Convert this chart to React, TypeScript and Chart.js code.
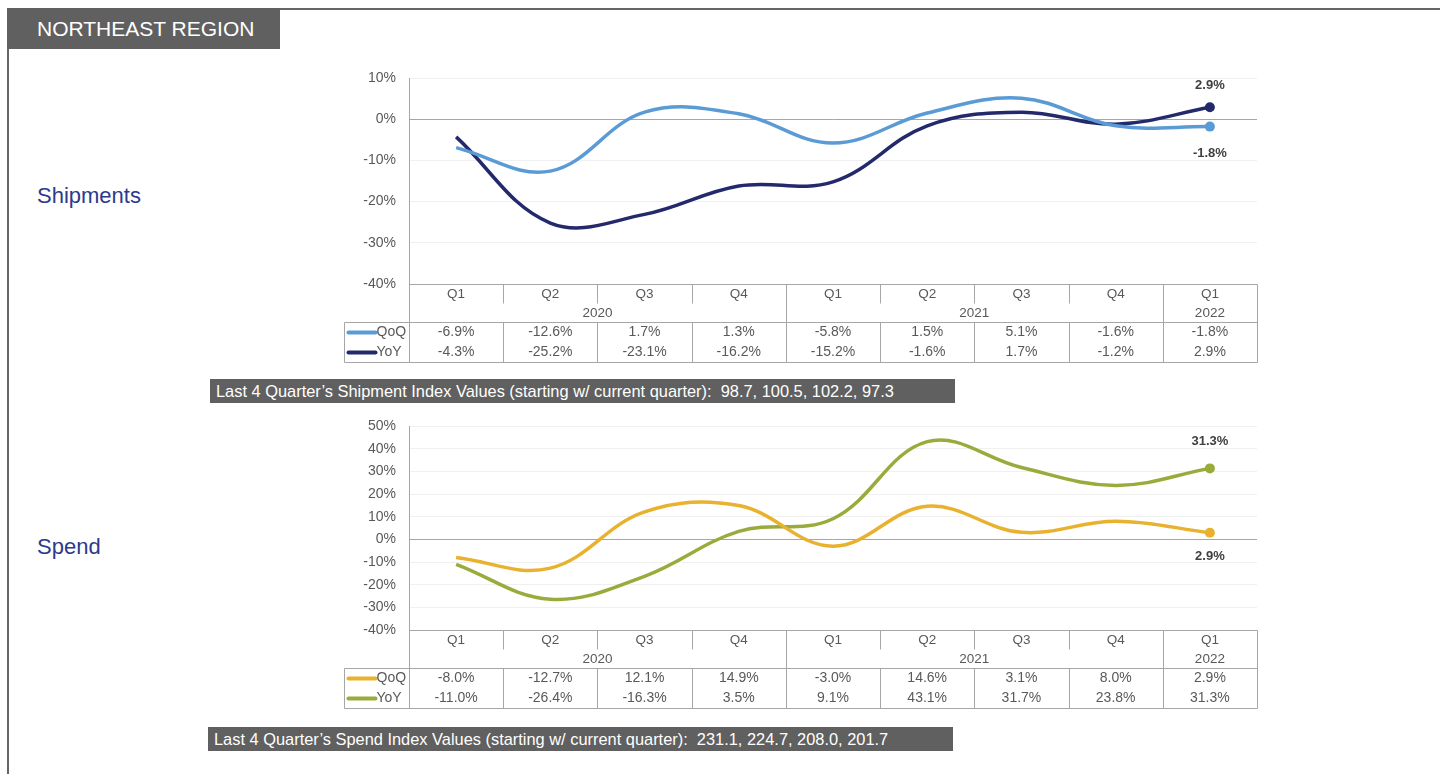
import React, { useEffect, useRef } from "react";
import { Chart, registerables } from "chart.js";

Chart.register(...registerables);

const quarters = ["Q1", "Q2", "Q3", "Q4", "Q1", "Q2", "Q3", "Q4", "Q1"];
const years = ["2020", "2021", "2022"];
const yearSpans = [4, 4, 1];

const shipQoQ = [-6.9, -12.6, 1.7, 1.3, -5.8, 1.5, 5.1, -1.6, -1.8];
const shipYoY = [-4.3, -25.2, -23.1, -16.2, -15.2, -1.6, 1.7, -1.2, 2.9];
const spendQoQ = [-8.0, -12.7, 12.1, 14.9, -3.0, 14.6, 3.1, 8.0, 2.9];
const spendYoY = [-11.0, -26.4, -16.3, 3.5, 9.1, 43.1, 31.7, 23.8, 31.3];

const shipIndex = [98.7, 100.5, 102.2, 97.3];
const spendIndex = [231.1, 224.7, 208.0, 201.7];

const FONT = "'Liberation Sans', Arial, Helvetica, sans-serif";
const GRID = "#a6a6a6";
const TXT = "#595959";

type SectionProps = {
  top: number;
  height: number;
  yMin: number;
  yMax: number;
  qoq: number[];
  yoy: number[];
  qoqColor: string;
  yoyColor: string;
  above: number;
  below: number;
};

const fmt = (v: number) => v.toFixed(1) + "%";

const tablePlugin = {
  id: "tablePlugin",
  afterDraw(chart: any) {
    const ctx = chart.ctx as CanvasRenderingContext2D;
    const xs = chart.scales.x;
    const area = chart.chartArea;
    const n = quarters.length;
    const half = (xs.getPixelForValue(1) - xs.getPixelForValue(0)) / 2;
    const colLeft = (i: number) => xs.getPixelForValue(i) - half;
    const B = Math.round(area.bottom) + 0.5;
    const L = Math.round(area.left) + 0.5;
    const R = Math.round(colLeft(n)) + 0.5;
    const legL = L - 65;
    const opts = chart.options.plugins.tablePlugin;
    ctx.save();
    ctx.strokeStyle = GRID;
    ctx.lineWidth = 1;
    const line = (x1: number, y1: number, x2: number, y2: number) => {
      ctx.beginPath();
      ctx.moveTo(x1, y1);
      ctx.lineTo(x2, y2);
      ctx.stroke();
    };
    line(L, B, R, B);
    line(L, B, L, B + 78);
    line(R, B, R, B + 78);
    line(legL, B + 38, R, B + 38);
    line(legL, B + 78, R, B + 78);
    line(legL, B + 38, legL, B + 78);
    let acc = 0;
    const yearBounds: number[] = [];
    yearSpans.forEach((s) => {
      acc += s;
      yearBounds.push(acc);
    });
    for (let i = 1; i < n; i++) {
      const x = Math.round(colLeft(i)) + 0.5;
      if (yearBounds.includes(i)) {
        line(x, B, x, B + 78);
      } else {
        line(x, B, x, B + 19);
        line(x, B + 38, x, B + 78);
      }
    }
    ctx.fillStyle = TXT;
    ctx.font = "13.5px " + FONT;
    ctx.textAlign = "center";
    ctx.textBaseline = "middle";
    quarters.forEach((q, i) => ctx.fillText(q, xs.getPixelForValue(i), B + 10));
    let start = 0;
    years.forEach((y, k) => {
      const end = start + yearSpans[k];
      ctx.fillText(y, (colLeft(start) + colLeft(end)) / 2, B + 29);
      start = end;
    });
    const rows = [
      { label: "QoQ", data: opts.qoq, color: opts.qoqColor, y: B + 48 },
      { label: "YoY", data: opts.yoy, color: opts.yoyColor, y: B + 68 },
    ];
    ctx.font = "14px " + FONT;
    rows.forEach((r) => {
      ctx.fillStyle = TXT;
      ctx.textAlign = "center";
      r.data.forEach((v: number, i: number) => ctx.fillText(fmt(v), xs.getPixelForValue(i), r.y));
      ctx.strokeStyle = r.color;
      ctx.lineWidth = 4;
      ctx.lineCap = "round";
      line(legL + 4, r.y, legL + 31, r.y);
      ctx.textAlign = "left";
      ctx.fillText(r.label, legL + 32, r.y);
    });
    // end labels
    ctx.font = "bold 13px " + FONT;
    ctx.fillStyle = "#404040";
    ctx.textAlign = "center";
    chart.data.datasets.forEach((ds: any, d: number) => {
      const meta = chart.getDatasetMeta(d);
      const last = meta.data[meta.data.length - 1];
      const v = ds.data[ds.data.length - 1];
      const isAbove = ds.label === "YoY";
      ctx.fillText(fmt(v), last.x, isAbove ? last.y - opts.above : last.y + opts.below);
    });
    ctx.restore();
  },
};

function Section(p: SectionProps) {
  const ref = useRef<HTMLCanvasElement>(null);
  useEffect(() => {
    if (!ref.current) return;
    const last = quarters.length - 1;
    const mk = (label: string, data: number[], color: string) => ({
      label,
      data,
      borderColor: color,
      backgroundColor: color,
      borderWidth: 3.5,
      tension: 0.38,
      pointRadius: (c: any) => (c.dataIndex === last ? 5 : 0),
      pointBackgroundColor: color,
      pointBorderWidth: 0,
      clip: false as any,
    });
    const chart = new Chart(ref.current, {
      type: "line",
      data: {
        labels: quarters,
        datasets: [mk("QoQ", p.qoq, p.qoqColor), mk("YoY", p.yoy, p.yoyColor)],
      },
      options: {
        animation: false,
        responsive: false,
        maintainAspectRatio: false,
        layout: { padding: { top: 0, right: 23, bottom: 90, left: 0 } },
        plugins: {
          legend: { display: false },
          tooltip: { enabled: false },
          tablePlugin: {
            qoq: p.qoq,
            yoy: p.yoy,
            qoqColor: p.qoqColor,
            yoyColor: p.yoyColor,
            above: p.above,
            below: p.below,
          },
        } as any,
        scales: {
          x: {
            display: false,
            offset: true,
            grid: { display: false },
          },
          y: {
            min: p.yMin,
            max: p.yMax,
            afterFit: (s: any) => {
              s.width = 79;
            },
            border: { display: true, color: GRID },
            grid: {
              drawTicks: false,
              color: (c: any) =>
                c.tick && (c.tick.value === 0 || c.tick.value === p.yMin) ? GRID : "#f0f0f0",
            },
            ticks: {
              stepSize: 10,
              padding: 13,
              color: TXT,
              font: { size: 14, family: FONT, lineHeight: 16 / 14 },
              callback: (v: any) => v + "%",
            },
          },
        },
      },
      plugins: [tablePlugin],
    });
    return () => chart.destroy();
  }, []);
  return (
    <canvas
      ref={ref}
      width={950}
      height={p.height}
      style={{ position: "absolute", left: 330, top: p.top, width: 950, height: p.height }}
    />
  );
}

const banner = (top: number, left: number, text: string) => (
  <div
    style={{
      position: "absolute",
      left,
      top,
      width: 745,
      height: 24,
      background: "#606060",
      color: "#fff",
      fontFamily: FONT,
      fontSize: 16.4,
      lineHeight: "24px",
      paddingLeft: 6,
      boxSizing: "border-box",
      whiteSpace: "pre",
    }}
  >
    {text}
  </div>
);

export default function App() {
  return (
    <div
      style={{
        position: "fixed",
        left: 0,
        top: 0,
        width: 1440,
        height: 774,
        background: "#fff",
        overflow: "hidden",
        fontFamily: FONT,
      }}
    >
      <div style={{ position: "absolute", left: 8, top: 8, width: 1432, height: 2, background: "#666" }} />
      <div style={{ position: "absolute", left: 7, top: 8, width: 2, height: 766, background: "#666" }} />
      <div
        style={{
          position: "absolute",
          left: 7,
          top: 8,
          width: 273,
          height: 41,
          background: "#606060",
          color: "#fff",
          fontSize: 21,
          lineHeight: "41px",
          paddingLeft: 30,
          boxSizing: "border-box",
        }}
      >
        NORTHEAST REGION
      </div>
      <div style={{ position: "absolute", left: 37, top: 182, fontSize: 22, lineHeight: "28px", color: "#2b3a8c" }}>
        Shipments
      </div>
      <div style={{ position: "absolute", left: 37, top: 533, fontSize: 22, lineHeight: "28px", color: "#2b3a8c" }}>
        Spend
      </div>
      <Section
        top={57}
        height={317}
        yMin={-40}
        yMax={10}
        qoq={shipQoQ}
        yoy={shipYoY}
        qoqColor="#5b9bd5"
        yoyColor="#232a6b"
        above={22}
        below={27}
      />
      <Section
        top={405}
        height={315}
        yMin={-40}
        yMax={50}
        qoq={spendQoQ}
        yoy={spendYoY}
        qoqColor="#e8b22f"
        yoyColor="#9aab3c"
        above={27}
        below={24}
      />
      {banner(
        379,
        210,
        "Last 4 Quarter’s Shipment Index Values (starting w/ current quarter):  " +
          shipIndex.map((v) => v.toFixed(1)).join(", ")
      )}
      {banner(
        727,
        208,
        "Last 4 Quarter’s Spend Index Values (starting w/ current quarter):  " +
          spendIndex.map((v) => v.toFixed(1)).join(", ")
      )}
    </div>
  );
}
